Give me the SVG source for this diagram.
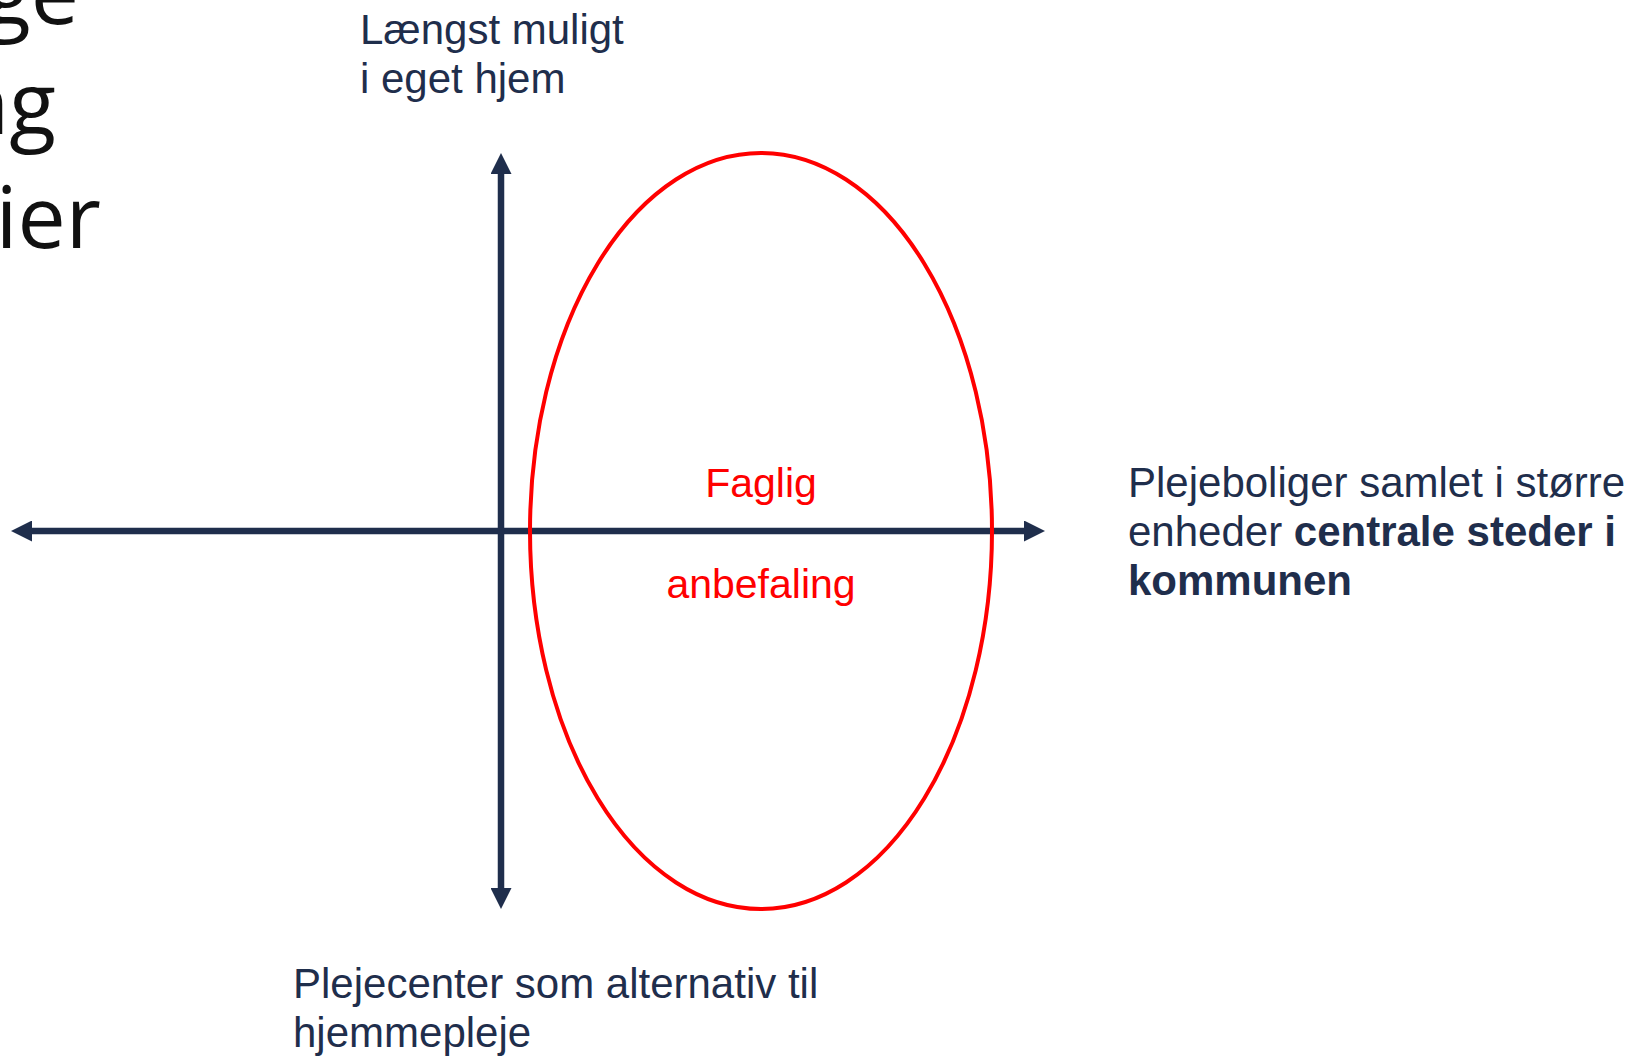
<svg xmlns="http://www.w3.org/2000/svg" width="1633" height="1059" viewBox="0 0 1633 1059">
  <style>
    .lbl { font-family: "Liberation Sans", Arial, sans-serif; font-size: 42px; fill: #1f2e4c; }
    .b { font-weight: bold; }
    .red { font-family: "Liberation Sans", Arial, sans-serif; font-size: 41px; fill: #ff0000; text-anchor: middle; }
    .title { font-family: "Open Sans", "Liberation Sans", sans-serif; font-size: 86px; fill: #111111; text-anchor: end; }
    .axis { stroke: #1f2e4c; stroke-width: 6.5; fill: none; }
  </style>
  <defs>
    <marker id="arrow" viewBox="0 0 21 21" refX="11" refY="10.5" markerWidth="21" markerHeight="21" markerUnits="userSpaceOnUse" orient="auto-start-reverse">
      <path d="M0,0 L21,10.5 L0,21 Z" fill="#1f2e4c"/>
    </marker>
  </defs>
  <rect width="1633" height="1059" fill="#ffffff"/>

  <g id="title-fragment">
    <text class="title" x="79" y="24">ge</text>
    <text class="title" x="56" y="134">ng</text>
    <text class="title" x="101" y="248">ier</text>
  </g>

  <g id="connectors">
    <line class="axis" x1="21" y1="531" x2="1035" y2="531" marker-start="url(#arrow)" marker-end="url(#arrow)"/>
    <line class="axis" x1="501" y1="163" x2="501" y2="899" marker-start="url(#arrow)" marker-end="url(#arrow)"/>
  </g>

  <g id="ellipse-node">
    <ellipse cx="761" cy="531" rx="231" ry="378" fill="none" stroke="#ff0000" stroke-width="4"/>
    <text class="red" x="761" y="497">Faglig</text>
    <text class="red" x="761" y="598">anbefaling</text>
  </g>

  <g id="label-top">
    <text class="lbl" x="360" y="44">Længst muligt</text>
    <text class="lbl" x="360" y="93">i eget hjem</text>
  </g>

  <g id="label-right">
    <text class="lbl" x="1128" y="497">Plejeboliger samlet i større</text>
    <text class="lbl" x="1128" y="546">enheder <tspan class="b">centrale steder i</tspan></text>
    <text class="lbl b" x="1128" y="595">kommunen</text>
  </g>

  <g id="label-bottom">
    <text class="lbl" x="293" y="998">Plejecenter som alternativ til</text>
    <text class="lbl" x="293" y="1047">hjemmepleje</text>
  </g>
</svg>
